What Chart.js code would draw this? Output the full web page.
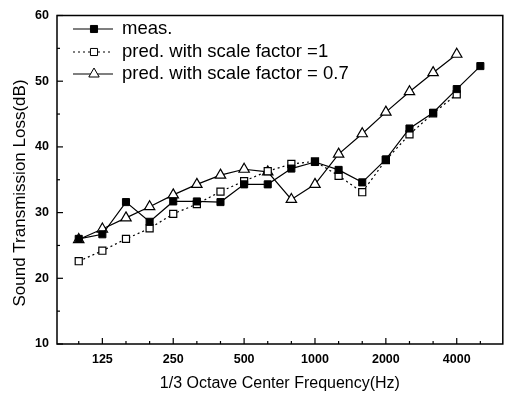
<!DOCTYPE html>
<html>
<head>
<meta charset="utf-8">
<script src="https://cdn.jsdelivr.net/npm/chart.js@4.4.1/dist/chart.umd.min.js"></script>
<style>
  html, body { margin: 0; padding: 0; background: #fff; }
  #wrap { width: 510px; height: 395px; }
</style>
</head>
<body>
<div id="wrap"><canvas id="c" width="510" height="395"></canvas></div>
<script>
// 1/3 octave centre frequencies (Hz)
const categories = [100, 125, 160, 200, 250, 315, 400, 500, 630, 800, 1000, 1250, 1600, 2000, 2500, 3150, 4000, 5000];
const tickLabels = ['125', '250', '500', '1000', '2000', '4000'];
const yTicks = [10, 20, 30, 40, 50, 60];

const seriesNames = ['meas.', 'pred. with scale factor =1', 'pred. with scale factor = 0.7'];
const meas   = [26.0, 26.7, 31.6, 28.6, 31.7, 31.7, 31.6, 34.3, 34.3, 36.7, 37.7, 36.5, 34.6, 38.1, 42.8, 45.2, 48.8, 52.3];
const pred1  = [22.6, 24.2, 26.0, 27.6, 29.8, 31.3, 33.2, 34.8, 36.3, 37.4, 37.8, 35.6, 33.1, 38.0, 41.9, 45.1, 48.0];
const pred07 = [25.9, 27.5, 29.2, 30.9, 32.7, 34.3, 35.7, 36.6, 36.2, 32.0, 34.3, 38.9, 42.0, 45.3, 48.4, 51.3, 54.1];

const FONT = '"Liberation Sans", Arial, Helvetica, sans-serif';
const toPts = arr => arr.map((v, i) => ({ x: i, y: v }));

const framePlugin = {
  id: 'frameAndLegend',
  afterDraw(chart) {
    const ctx = chart.ctx;
    const { left, right, top, bottom } = chart.chartArea;
    const xs = chart.scales.x, ys = chart.scales.y;
    ctx.save();
    ctx.strokeStyle = '#000';
    ctx.lineWidth = 1.5;
    ctx.strokeRect(left, top, right - left, bottom - top);
    ctx.lineWidth = 1.2;
    // x ticks (inward)
    categories.forEach((c, i) => {
      const px = xs.getPixelForValue(i);
      const len = tickLabels.includes(String(c)) ? 6 : 3;
      ctx.beginPath(); ctx.moveTo(px, bottom); ctx.lineTo(px, bottom - len); ctx.stroke();
    });
    // y ticks (inward), major + minor
    for (let v = ys.min; v <= ys.max + 0.001; v += 5) {
      const py = ys.getPixelForValue(v);
      const len = (v % 10 === 0) ? 6 : 3;
      ctx.beginPath(); ctx.moveTo(left, py); ctx.lineTo(left + len, py); ctx.stroke();
    }
    // y title
    ctx.fillStyle = '#000';
    ctx.font = '17px ' + FONT;
    ctx.textAlign = 'center';
    ctx.textBaseline = 'middle';
    ctx.translate(20, 193);
    ctx.rotate(-Math.PI / 2);
    ctx.fillText('Sound Transmission Loss(dB)', 0, 0);
    ctx.restore();

    // legend
    ctx.save();
    const rows = [29, 52, 74];
    chart.data.datasets.forEach((ds, k) => {
      const y = rows[k];
      ctx.strokeStyle = '#000';
      ctx.lineWidth = 1.2;
      ctx.setLineDash(ds.borderDash || []);
      ctx.beginPath(); ctx.moveTo(73, y); ctx.lineTo(113, y); ctx.stroke();
      ctx.setLineDash([]);
      ctx.fillStyle = ds.pointBackgroundColor;
      ctx.strokeStyle = '#000';
      ctx.lineWidth = 1;
      Chart.helpers.drawPoint(ctx, { pointStyle: ds.pointStyle, radius: ds.pointRadius, rotation: 0, borderWidth: 1 }, 94, y);
      ctx.fillStyle = '#000';
      ctx.font = '18.5px ' + FONT;
      ctx.textAlign = 'left';
      ctx.textBaseline = 'middle';
      ctx.fillText(ds.label, 122, y);
    });
    ctx.restore();
  }
};

new Chart(document.getElementById('c'), {
  type: 'line',
  data: {
    datasets: [
      { label: seriesNames[0], data: toPts(meas), borderColor: '#000', borderWidth: 1.2,
        pointStyle: 'rect', pointRadius: 5, pointBackgroundColor: '#000', pointBorderColor: '#000', pointBorderWidth: 1 },
      { label: seriesNames[1], data: toPts(pred1), borderColor: '#000', borderWidth: 1.2, borderDash: [2, 3],
        pointStyle: 'rect', pointRadius: 5, pointBackgroundColor: '#fff', pointBorderColor: '#000', pointBorderWidth: 1.2 },
      { label: seriesNames[2], data: toPts(pred07), borderColor: '#000', borderWidth: 1.2,
        pointStyle: 'triangle', pointRadius: 6, pointBackgroundColor: '#fff', pointBorderColor: '#000', pointBorderWidth: 1.2 }
    ]
  },
  options: {
    responsive: false,
    animation: false,
    devicePixelRatio: 1,
    layout: { padding: { top: 10, right: 3, left: 0, bottom: 0 } },
    plugins: { legend: { display: false }, tooltip: { enabled: false } },
    elements: { line: { tension: 0, fill: false } },
    scales: {
      x: {
        type: 'linear', min: -0.92, max: 17.95,
        afterBuildTicks: s => { s.ticks = categories.map((c, i) => ({ value: i })); },
        afterFit: s => { s.height = 51; },
        grid: { display: false, drawTicks: false },
        border: { display: false },
        ticks: {
          autoSkip: false, maxRotation: 0, padding: 8, color: '#000',
          font: { family: FONT, size: 12.5, weight: 'bold' },
          callback: v => { const c = String(categories[v]); return tickLabels.includes(c) ? c : ''; }
        },
        title: { display: true, text: '1/3 Octave Center Frequency(Hz)', color: '#000',
                 font: { family: FONT, size: 16 }, padding: { top: 0, bottom: 2 } }
      },
      y: {
        type: 'linear', min: 10, max: 60,
        afterBuildTicks: s => { s.ticks = yTicks.map(v => ({ value: v })); },
        afterFit: s => { s.width = 57; },
        grid: { display: false, drawTicks: false },
        border: { display: false },
        ticks: { padding: 8, color: '#000', font: { family: FONT, size: 12.5, weight: 'bold' } }
      }
    }
  },
  plugins: [framePlugin]
});
</script>
</body>
</html>
